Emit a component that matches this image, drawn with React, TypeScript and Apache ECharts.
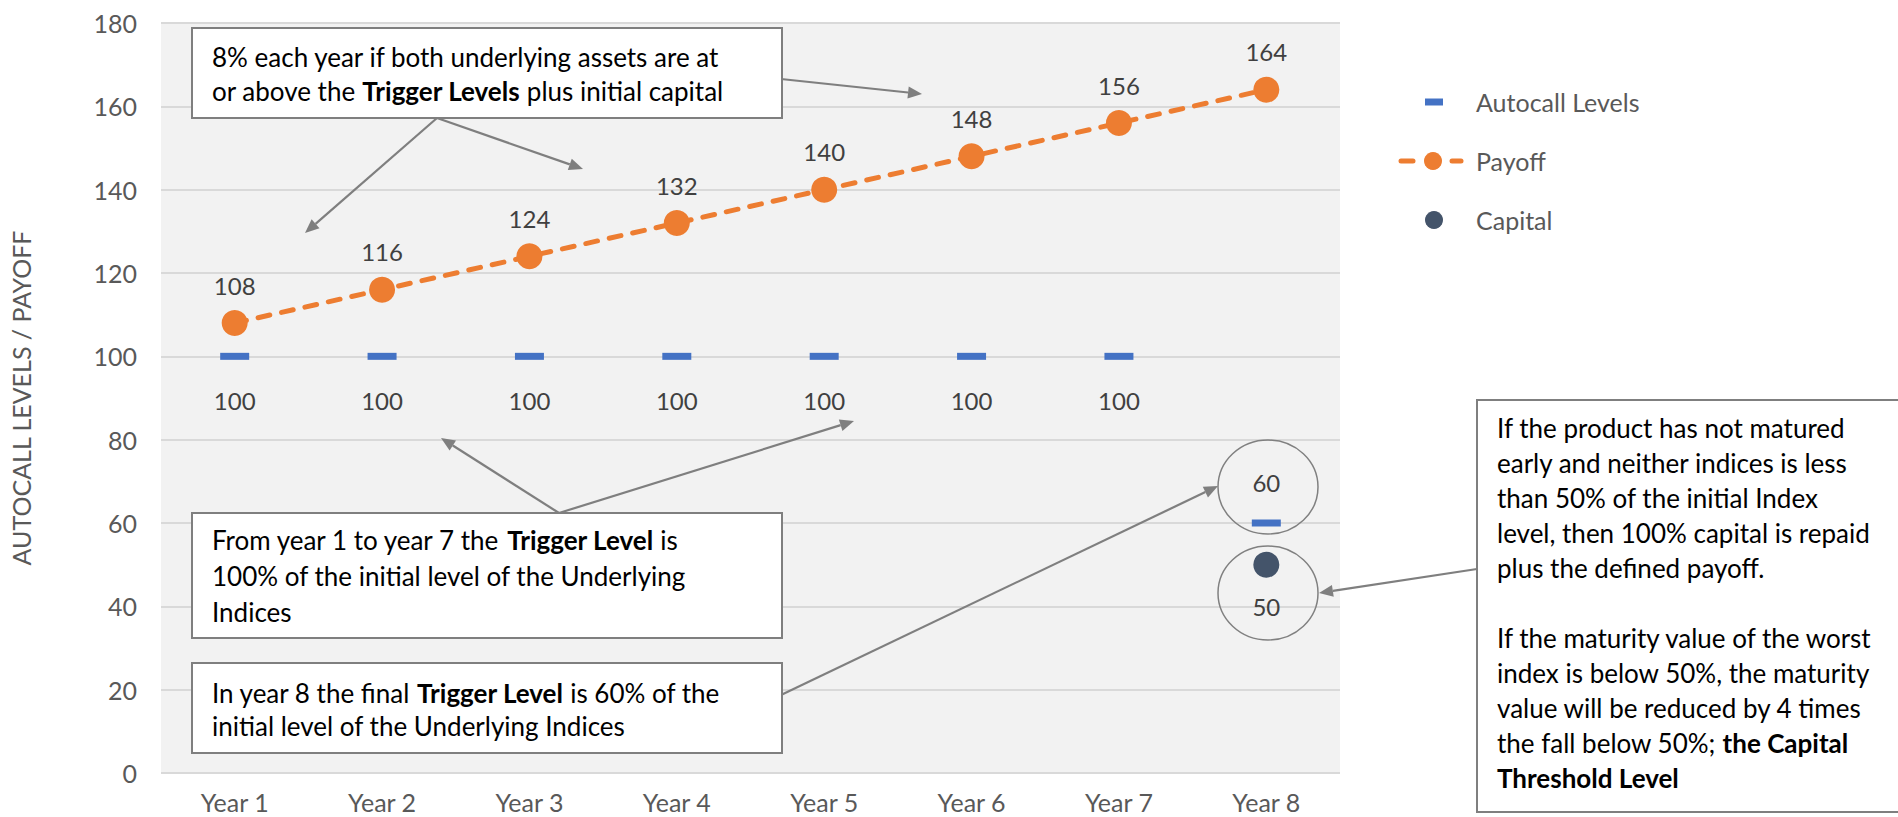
import React, { useEffect, useRef } from "react";
import * as echarts from "echarts";

const years = ["Year 1", "Year 2", "Year 3", "Year 4", "Year 5", "Year 6", "Year 7", "Year 8"];
const autocallLevels = [100, 100, 100, 100, 100, 100, 100, 60];
const payoff = [108, 116, 124, 132, 140, 148, 156, 164];
const capital: (number | string)[] = ["-", "-", "-", "-", "-", "-", "-", 50];
const yMin = 0;
const yMax = 180;
const yStep = 20;
const yAxisTitle = "AUTOCALL LEVELS / PAYOFF";
const seriesNames = ["Autocall Levels", "Payoff", "Capital"];

const box1Text = "8% each year if both underlying assets are at\nor above the {b|Trigger Levels} plus initial capital";
const box2Text = "From year 1 to year 7 the {b|Trigger Level} is\n100% of the initial level of the Underlying\nIndices";
const box3Text = "In year 8 the final {b|Trigger Level} is 60% of the\ninitial level of the Underlying Indices";
const box4Text =
  "If the product has not matured\nearly and neither indices is less\nthan 50% of the initial Index\nlevel, then 100% capital is repaid\nplus the defined payoff.\n\nIf the maturity value of the worst\nindex is below 50%, the maturity\nvalue will be reduced by 4 times\nthe fall below 50%; {b|the Capital}\n{b|Threshold Level}";

const FONT = "Lato";
const BLUE = "#4472C4";
const ORANGE = "#ED7D31";
const NAVY = "#44546A";
const GREY = "#7f7f7f";

function arrow(x1: number, y1: number, x2: number, y2: number): any[] {
  const dx = x2 - x1;
  const dy = y2 - y1;
  const len = Math.sqrt(dx * dx + dy * dy);
  const ux = dx / len;
  const uy = dy / len;
  const L = 14;
  const W = 12;
  const bx = x2 - ux * L;
  const by = y2 - uy * L;
  const nx = -uy;
  const ny = ux;
  return [
    { type: "line", z: 50, shape: { x1, y1, x2: bx, y2: by }, style: { stroke: GREY, lineWidth: 2.2 } },
    {
      type: "polygon",
      z: 50,
      shape: {
        points: [
          [x2, y2],
          [bx + (nx * W) / 2, by + (ny * W) / 2],
          [bx - (nx * W) / 2, by - (ny * W) / 2],
        ],
      },
      style: { fill: GREY },
    },
  ];
}

function textBox(x: number, y: number, w: number, h: number, tx: number, ty: number, text: string, lh: number, fs: number): any[] {
  return [
    { type: "rect", z: 60, shape: { x, y, width: w, height: h }, style: { fill: "#ffffff", stroke: GREY, lineWidth: 2 } },
    {
      type: "text",
      z: 61,
      x: tx,
      y: ty,
      style: {
        text,
        fontFamily: FONT,
        fontSize: fs,
        lineHeight: lh,
        fill: "#000000",
        align: "left",
        verticalAlign: "top",
        rich: {
          b: { fontFamily: FONT, fontSize: fs, lineHeight: lh, fontWeight: "bold", fill: "#000000" },
        },
      },
    },
  ];
}

export default function App() {
  const ref = useRef<HTMLDivElement>(null);
  useEffect(() => {
    if (!ref.current) return;
    const chart = echarts.init(ref.current, undefined, { renderer: "svg" });
    const lastIdx = autocallLevels.length - 1;
    const labelStyle = { fontFamily: FONT, fontSize: 24, color: "#404040" };
    const legendText = { fontFamily: FONT, fontSize: 25, fill: "#595959", verticalAlign: "middle" };
    chart.setOption({
      animation: false,
      backgroundColor: "#ffffff",
      textStyle: { fontFamily: FONT },
      grid: {
        left: 161,
        right: 558,
        top: 23,
        bottom: 44,
        containLabel: false,
        outerBoundsMode: "none",
        show: true,
        backgroundColor: "#f2f2f2",
        borderWidth: 0,
      },
      xAxis: {
        type: "category",
        data: years,
        boundaryGap: true,
        axisLine: { show: false },
        axisTick: { show: false },
        axisLabel: { color: "#595959", fontFamily: FONT, fontSize: 25, lineHeight: 20, margin: 19 },
        splitLine: { show: false },
      },
      yAxis: {
        type: "value",
        min: yMin,
        max: yMax,
        interval: yStep,
        name: yAxisTitle,
        nameLocation: "middle",
        nameGap: 128,
        nameRotate: 90,
        nameTextStyle: { color: "#595959", fontFamily: FONT, fontSize: 25 },
        axisLine: { show: false },
        axisTick: { show: false },
        axisLabel: { color: "#595959", fontFamily: FONT, fontSize: 25, margin: 24 },
        splitLine: { show: true, lineStyle: { color: "#d9d9d9", width: 2 } },
      },
      series: [
        {
          name: seriesNames[0],
          type: "scatter",
          symbol: "rect",
          symbolSize: [29, 7],
          itemStyle: { color: BLUE, opacity: 1 },
          z: 3,
          data: autocallLevels.map((v, i) => ({
            value: v,
            label:
              i === lastIdx
                ? { show: true, position: "top", distance: 25 }
                : { show: true, position: "bottom", distance: 29 },
          })),
          label: { ...labelStyle },
        },
        {
          name: seriesNames[1],
          type: "line",
          data: payoff,
          symbol: "circle",
          symbolSize: 26,
          itemStyle: { color: ORANGE, opacity: 1 },
          lineStyle: { color: ORANGE, width: 5, type: [12, 12], cap: "round" },
          label: { show: true, position: "top", distance: 13, ...labelStyle },
          z: 4,
        },
        {
          name: seriesNames[2],
          type: "scatter",
          data: capital,
          symbol: "circle",
          symbolSize: 26,
          itemStyle: { color: NAVY, opacity: 1 },
          label: { show: true, position: "bottom", distance: 17, ...labelStyle },
          z: 3,
        },
      ],
      graphic: [
        // legend
        { type: "rect", z: 70, shape: { x: 1425, y: 98.5, width: 18, height: 7 }, style: { fill: BLUE } },
        { type: "line", z: 70, shape: { x1: 1401, y1: 161, x2: 1413, y2: 161 }, style: { stroke: ORANGE, lineWidth: 5, lineCap: "round" } },
        { type: "line", z: 70, shape: { x1: 1452, y1: 161, x2: 1461, y2: 161 }, style: { stroke: ORANGE, lineWidth: 5, lineCap: "round" } },
        { type: "circle", z: 70, shape: { cx: 1433, cy: 161, r: 9 }, style: { fill: ORANGE } },
        { type: "circle", z: 70, shape: { cx: 1434, cy: 220, r: 9 }, style: { fill: NAVY } },
        { type: "text", z: 70, x: 1476, y: 102, style: { text: seriesNames[0], ...legendText } },
        { type: "text", z: 70, x: 1476, y: 161, style: { text: seriesNames[1], ...legendText } },
        { type: "text", z: 70, x: 1476, y: 220, style: { text: seriesNames[2], ...legendText } },
        // ellipses
        { type: "ellipse", z: 40, shape: { cx: 1268, cy: 487, rx: 50, ry: 47 }, style: { fill: "none", stroke: "#808080", lineWidth: 1.5 } },
        { type: "ellipse", z: 40, shape: { cx: 1268, cy: 593, rx: 50, ry: 47 }, style: { fill: "none", stroke: "#808080", lineWidth: 1.5 } },
        // arrows
        ...arrow(437, 118, 305, 233),
        ...arrow(437, 118, 583, 169),
        ...arrow(781, 79, 922, 94),
        ...arrow(559, 513, 441, 438),
        ...arrow(559, 513, 854, 421),
        ...arrow(781, 695, 1218, 486),
        ...arrow(1477, 569, 1319, 593),
        // boxes
        ...textBox(192, 28, 590, 90, 212, 40, box1Text, 34, 26),
        ...textBox(192, 513, 590, 125, 212, 522, box2Text, 36, 26),
        ...textBox(192, 663, 590, 90, 212, 676, box3Text, 33, 26),
        ...textBox(1477, 400, 440, 412, 1497, 410, box4Text, 35, 26),
      ],
    });
    return () => chart.dispose();
  }, []);
  return <div ref={ref} style={{ position: "fixed", left: 0, top: 0, width: 1898, height: 817 }} />;
}
